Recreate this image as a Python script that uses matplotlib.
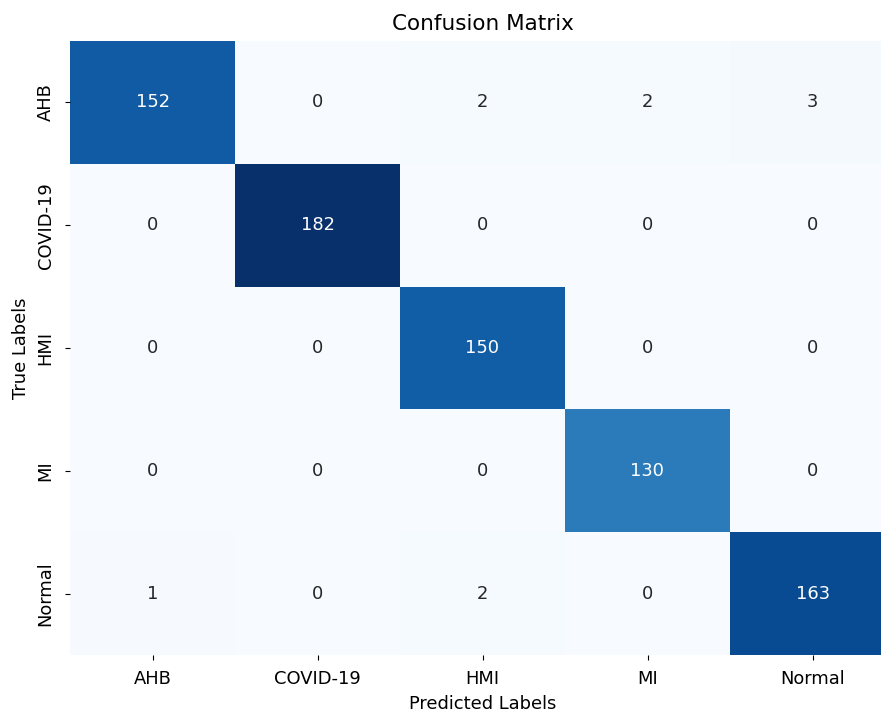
import matplotlib
matplotlib.use('Agg')
import matplotlib.pyplot as plt
import numpy as np
import seaborn as sns

# 클래스 이름과 혼동행렬 값
classes = ['AHB', 'COVID-19', 'HMI', 'MI', 'Normal']
row_ahb = [152, 0, 2, 2, 3]
row_covid = [0, 182, 0, 0, 0]
row_hmi = [0, 0, 150, 0, 0]
row_mi = [0, 0, 0, 130, 0]
row_normal = [1, 0, 2, 0, 163]

cm = np.array([row_ahb, row_covid, row_hmi, row_mi, row_normal])

plt.rcParams['font.size'] = 12.9
fig = plt.figure(figsize=(8.81, 7.15), dpi=100)
ax = fig.add_axes([70 / 881, 60 / 715, 825 / 881, 614 / 715])

sns.heatmap(cm, annot=True, fmt='d', cmap='Blues', cbar=False,
            xticklabels=classes, yticklabels=classes, ax=ax,
            annot_kws={'fontsize': 12.9})

ax.tick_params(axis='both', pad=7.5, length=3.5)
ax.set_title('Confusion Matrix', fontsize=15.5, pad=8)
ax.set_xlabel('Predicted Labels', fontsize=12.9, labelpad=5)
ax.set_ylabel('True Labels', fontsize=12.9, labelpad=5)

plt.savefig('out.png', dpi=100)
